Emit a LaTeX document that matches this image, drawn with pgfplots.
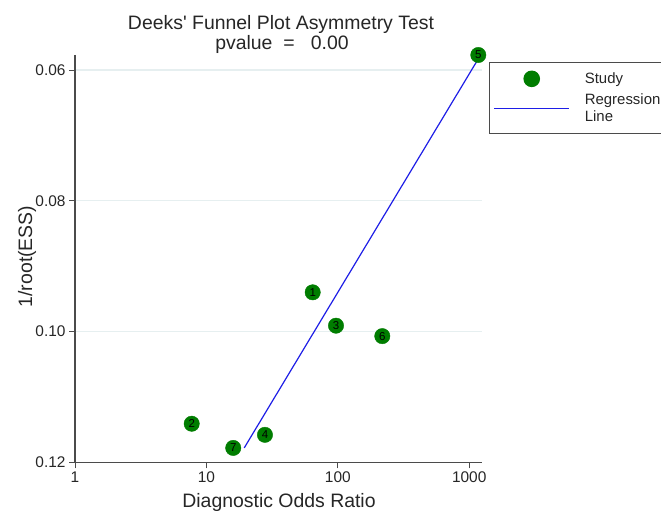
\documentclass[border=0pt]{standalone}
\usepackage{fontspec}
\setmainfont{Liberation Sans}
\usepackage{pgfplots}
\pgfplotsset{compat=1.18}

\definecolor{studygreen}{RGB}{0,125,0}
\definecolor{regblue}{RGB}{30,30,230}
\definecolor{gridc}{RGB}{230,239,240}
\definecolor{axisc}{RGB}{75,75,75}

\pgfplotsset{
  leg line/.style={legend image code/.code={\draw[draw=regblue, line width=1.2bp] (0bp,0bp) -- (75bp,0bp);}},
  leg dot/.style={legend image code/.code={\path[fill=studygreen, draw=studygreen] (37.5bp,0bp) circle (7.7bp);}},
}

% study estimates: DOR, 1/root(ESS), study id
\pgfplotstableread{
dor    ess     id
64.4   0.0940  1
7.73   0.1141  2
96.9   0.0991  3
27.9   0.1158  4
1173   0.0577  5
218    0.1007  6
16.0   0.1178  7
}\studies

\begin{document}
\begin{tikzpicture}[x=1bp,y=1bp]
\begin{axis}[
  at={(75bp,48.7bp)}, anchor=south west,
  scale only axis, width=406.7bp, height=407.3bp,
  xmode=log, xmin=1, xmax=1245,
  ymin=0.0577, ymax=0.12, y dir=reverse,
  axis x line*=bottom, axis y line*=left,
  axis line style={axisc, line width=1.4bp, -},
  xtick={1,10,100,1000}, xticklabels={1,10,100,1000},
  ytick={0.06,0.08,0.10,0.12}, yticklabels={0.06,0.08,0.10,0.12},
  xminorticks=false, yminorticks=false,
  tick align=outside, major tick length=6bp,
  tick style={axisc, line width=1bp},
  ymajorgrids, grid style={gridc, line width=1.2bp},
  ticklabel style={font=\fontsize{15.5}{18}\selectfont, text=black!85},
  /pgf/number format/assume math mode=true,
  clip=false,
  reverse legend,
  legend style={at={(1.018,0.983)}, anchor=north west,
    draw=axisc, line width=1.2bp, fill=white,
    font=\fontsize{15}{17}\selectfont, text=black!85,
    cells={align=left, anchor=west},
    column sep=13bp,
    inner xsep=4bp, inner ysep=8bp, row sep=5bp},
]
\addplot[regblue, line width=1.2bp, leg line]
  coordinates {(19.4,0.1178) (1140,0.0587)};
\addlegendentry{Regression\\Line}
\addplot[only marks, mark=*, mark size=7.7bp,
  mark options={fill=studygreen, draw=studygreen},
  nodes near coords, point meta=explicit symbolic,
  nodes near coords style={anchor=center, inner sep=0pt, font=\fontsize{11.5}{11.5}\selectfont, text=black},
  leg dot]
  table[x=dor, y=ess, meta=id] {\studies};
\addlegendentry{Study}
\end{axis}
\node[anchor=base, font=\fontsize{19.5}{20}\selectfont, text=black!85] at (281,481) {Deeks\textquotesingle{} Funnel Plot Asymmetry Test};
\node[anchor=base, font=\fontsize{19.5}{20}\selectfont, text=black!85] at (282,461.7) {pvalue\ \ =\ \ \ 0.00};
\node[anchor=base, font=\fontsize{19.5}{20}\selectfont, text=black!85] at (279,3) {Diagnostic Odds Ratio};
\node[rotate=90, font=\fontsize{19.5}{20}\selectfont, text=black!85] at (27,254.5) {1/root(ESS)};
\pgfresetboundingbox
\path[use as bounding box] (0,0) rectangle (661,511);
\end{tikzpicture}
\end{document}
